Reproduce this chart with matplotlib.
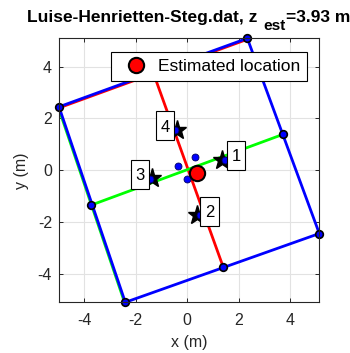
import matplotlib
matplotlib.use("Agg")
import matplotlib.pyplot as plt
from matplotlib.patches import Rectangle
from matplotlib.transforms import ScaledTranslation

plt.rcParams['font.family'] = ['Liberation Sans', 'DejaVu Sans']
plt.rcParams['axes.unicode_minus'] = False

# ---- data ----
title_main = 'Luise-Henrietten-Steg.dat, z'
title_sub = 'est'
title_tail = '=3.93 m'

# room square corners (left, top, right, bottom, close)
square_x = [-4.97, 2.33, 5.12, -2.40, -4.97]
square_y = [2.45, 5.10, -2.45, -5.11, 2.45]

# red wall edge + red mid line
red_edge_x = [-4.97, 2.33]
red_edge_y = [2.41, 5.06]
red_mid_x = [-1.32, 1.40]
red_mid_y = [3.78, -3.76]

# green wall edge + green mid line
green_edge_x = [-5.00, -2.43]
green_edge_y = [2.44, -5.11]
green_mid_x = [-3.72, 3.70]
green_mid_y = [-1.35, 1.38]

# sources (stars) and their labels
star_x = [1.36, 0.36, -1.36, -0.39]
star_y = [0.41, -1.74, -0.32, 1.55]
label_text = ['1', '2', '3', '4']
label_x = [1.90, 0.86, -1.84, -0.85]
label_y = [0.57, -1.58, -0.16, 1.72]

# blue microphone / estimate points
blue_x = [1.48, 0.48, -1.45, -0.49, 0.32, -0.36, 0.00]
blue_y = [0.41, -1.74, -0.35, 1.55, 0.51, 0.18, -0.34]

# estimated location
est_x = [0.39]
est_y = [-0.10]

xticks = [-4, -2, 0, 2, 4]
yticks = [-4, -2, 0, 2, 4]

# ---- figure ----
W, H = 350, 353
fig = plt.figure(figsize=(W / 100, H / 100), dpi=100)
ax = fig.add_axes([59 / W, 1 - 302.3 / H, 260.3 / W, 264.0 / H])

axis_col = '#262626'

ax.plot(red_edge_x, red_edge_y, color='red', lw=2.0, zorder=2)
ax.plot(green_edge_x, green_edge_y, color='#00ff00', lw=2.0, zorder=2)
ax.plot(red_mid_x, red_mid_y, color='red', lw=2.0, zorder=2)
ax.plot(green_mid_x, green_mid_y, color='#00ff00', lw=2.0, zorder=2)
ax.plot(square_x, square_y, color='blue', lw=2.0, zorder=3)
ax.plot(square_x[:-1], square_y[:-1], ls='none', marker='o', ms=5.5,
        mfc='blue', mec='black', mew=1.2, zorder=4, clip_on=False)
ax.plot(red_mid_x, red_mid_y, ls='none', marker='o', ms=5.5,
        mfc='blue', mec='black', mew=1.2, zorder=4)
ax.plot(green_mid_x, green_mid_y, ls='none', marker='o', ms=5.5,
        mfc='blue', mec='black', mew=1.2, zorder=4)

ax.plot(star_x, star_y, ls='none', marker='*', ms=14, color='black', zorder=5)
ax.plot(blue_x, blue_y, ls='none', marker='o', ms=5, mfc='blue',
        mec='#000060', mew=0.6, zorder=6)

ax.set_xlim(min(square_x), max(square_x))
ax.set_ylim(min(square_y), max(square_y))

# label boxes (fixed pixel size, centred on data point)
bw, bh = 18.3 / 100, 29.0 / 100
for t, x, y in zip(label_text, label_x, label_y):
    tr = fig.dpi_scale_trans + ScaledTranslation(x, y, ax.transData)
    ax.add_patch(Rectangle((-bw / 2, -bh / 2), bw, bh, transform=tr,
                           facecolor='white', edgecolor='black', lw=0.8,
                           zorder=7))
    ax.text(x, y, t, fontsize=12, ha='center', va='center_baseline',
            color='black', zorder=7.5)

h, = ax.plot(est_x, est_y, ls='none', marker='o', ms=11, mfc='red',
             mec='black', mew=1.5, zorder=8, label='Estimated location')

ax.set_xticks(xticks)
ax.set_yticks(yticks)
ax.set_xticklabels([str(v) for v in xticks])
ax.set_yticklabels([str(v) for v in yticks])
ax.grid(True, color='#e2e2e2', lw=0.8, zorder=0)
ax.set_axisbelow(True)
ax.tick_params(direction='in', length=3, width=0.7, colors=axis_col,
               labelsize=11.5, top=True, right=True)
ax.tick_params(axis='x', pad=7.5)
ax.tick_params(axis='y', pad=5)
for s in ax.spines.values():
    s.set_color(axis_col)
    s.set_linewidth(0.8)
    s.set_zorder(10)

ax.set_xlabel('x (m)', fontsize=11.5, color=axis_col, labelpad=5)
ax.set_ylabel('y (m)', fontsize=11.5, color=axis_col, labelpad=6)

leg = ax.legend(handles=[h], loc='upper right',
                bbox_to_anchor=(306.7 / W, 1 - 51.7 / H),
                bbox_transform=fig.transFigure, borderaxespad=0,
                fontsize=12.5, fancybox=False, framealpha=1, edgecolor='black',
                handlelength=2.1, handletextpad=0.2, borderpad=0.4)
leg.get_frame().set_linewidth(0.8)
leg.set_zorder(20)

# ---- title built from pieces (MATLAB-style subscript) ----
fig.canvas.draw()
r = fig.canvas.get_renderer()
t1 = fig.text(27 / W, 1 - 21.7 / H, title_main, fontsize=12, fontweight='bold',
              ha='left', va='baseline')
w1 = t1.get_window_extent(r).width
fs = 12 * 230.0 / w1
t1.set_fontsize(fs)
e1 = t1.get_window_extent(r)
t2 = fig.text((e1.x1 + 5.5) / W, 1 - 30.5 / H, title_sub, fontsize=fs * 0.88,
              fontweight='bold', ha='left', va='baseline')
e2 = t2.get_window_extent(r)
t3 = fig.text((e2.x1 + 0.5) / W, 1 - 21.7 / H, title_tail, fontsize=fs,
              fontweight='bold', ha='left', va='baseline')

fig.savefig('out.png', dpi=100)
